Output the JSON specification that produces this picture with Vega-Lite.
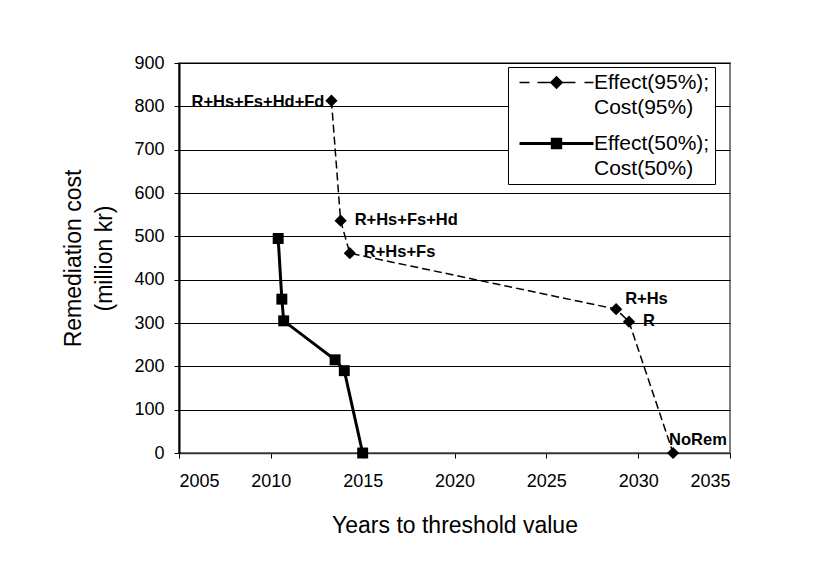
{
  "$schema": "https://vega.github.io/schema/vega-lite/v6.json",
  "width": 551,
  "height": 390,
  "autosize": {"type": "none"},
  "padding": {"left": 179, "top": 63, "right": 89, "bottom": 108},
  "background": "white",
  "config": {
    "font": "Liberation Sans",
    "view": {"stroke": "#808080", "strokeWidth": 2, "fill": "white"},
    "style": {"guide-label": {"lineHeight": 25}}
  },
  "data": {
    "values": [
      {"series": "95", "year": 2013.3, "cost": 813, "label": "R+Hs+Fs+Hd+Fd"},
      {"series": "95", "year": 2013.8, "cost": 536, "label": "R+Hs+Fs+Hd"},
      {"series": "95", "year": 2014.3, "cost": 461, "label": "R+Hs+Fs"},
      {"series": "95", "year": 2028.8, "cost": 332, "label": "R+Hs"},
      {"series": "95", "year": 2029.5, "cost": 303, "label": "R"},
      {"series": "95", "year": 2031.9, "cost": 0, "label": "NoRem"},
      {"series": "50", "year": 2010.4, "cost": 495, "label": ""},
      {"series": "50", "year": 2010.6, "cost": 355, "label": ""},
      {"series": "50", "year": 2010.7, "cost": 305, "label": ""},
      {"series": "50", "year": 2013.5, "cost": 215, "label": ""},
      {"series": "50", "year": 2014.0, "cost": 190, "label": ""},
      {"series": "50", "year": 2015.0, "cost": 0, "label": ""}
    ]
  },
  "encoding": {
    "x": {
      "field": "year",
      "type": "quantitative",
      "scale": {"domain": [2005, 2035], "nice": false, "zero": false},
      "axis": {
        "values": [2005, 2010, 2015, 2020, 2025, 2030, 2035],
        "format": "d",
        "grid": false,
        "domainColor": "#333333",
        "domainWidth": 1.5,
        "tickColor": "#000000",
        "tickSize": 5,
        "labelFontSize": 18,
        "labelColor": "#000000",
        "labelPadding": 14,
        "title": "Years to threshold value",
        "titleFontSize": 23,
        "titleFontWeight": "normal",
        "titleColor": "#000000",
        "titlePadding": 24
      }
    },
    "y": {
      "field": "cost",
      "type": "quantitative",
      "scale": {"domain": [0, 900], "nice": false},
      "axis": {
        "values": [0, 100, 200, 300, 400, 500, 600, 700, 800, 900],
        "grid": true,
        "gridColor": "#000000",
        "gridWidth": 1,
        "gridOpacity": 1,
        "domainColor": "#000000",
        "domainWidth": 2,
        "tickColor": "#000000",
        "tickSize": 5,
        "labelFontSize": 18,
        "labelColor": "#000000",
        "labelPadding": 10,
        "title": ["Remediation cost", "(million kr)"],
        "titleFontSize": 23,
        "titleFontWeight": "normal",
        "titleColor": "#000000",
        "titleLineHeight": 31,
        "titlePadding": 17
      }
    }
  },
  "layer": [
    {
      "transform": [{"filter": "datum.series === '95'"}],
      "mark": {"type": "line", "color": "#000000", "strokeWidth": 1.5, "strokeDash": [8, 4]},
      "encoding": {"order": {"field": "cost", "sort": "descending"}}
    },
    {
      "transform": [{"filter": "datum.series === '50'"}],
      "mark": {"type": "line", "color": "#000000", "strokeWidth": 3},
      "encoding": {"order": {"field": "cost", "sort": "descending"}}
    },
    {
      "transform": [{"filter": "datum.series === '95'"}],
      "mark": {"type": "point", "shape": "diamond", "filled": true, "color": "#000000", "opacity": 1, "size": 150}
    },
    {
      "transform": [{"filter": "datum.series === '50'"}],
      "mark": {"type": "point", "shape": "square", "filled": true, "color": "#000000", "opacity": 1, "size": 120}
    },
    {
      "transform": [{"filter": "datum.label === 'R+Hs+Fs+Hd+Fd'"}],
      "mark": {"type": "text", "align": "right", "baseline": "middle", "dx": -7, "dy": 1, "fontSize": 16.5, "fontWeight": "bold", "color": "#000000"},
      "encoding": {"text": {"field": "label"}}
    },
    {
      "transform": [{"filter": "datum.label === 'R+Hs+Fs+Hd' || datum.label === 'R+Hs+Fs' || datum.label === 'R'"}],
      "mark": {"type": "text", "align": "left", "baseline": "middle", "dx": 14, "dy": -1, "fontSize": 16.5, "fontWeight": "bold", "color": "#000000"},
      "encoding": {"text": {"field": "label"}}
    },
    {
      "transform": [{"filter": "datum.label === 'R+Hs'"}],
      "mark": {"type": "text", "align": "left", "baseline": "middle", "dx": 9, "dy": -10, "fontSize": 16.5, "fontWeight": "bold", "color": "#000000"},
      "encoding": {"text": {"field": "label"}}
    },
    {
      "transform": [{"filter": "datum.label === 'NoRem'"}],
      "mark": {"type": "text", "align": "left", "baseline": "middle", "dx": -4, "dy": -13, "fontSize": 16.5, "fontWeight": "bold", "color": "#000000"},
      "encoding": {"text": {"field": "label"}}
    },
    {
      "transform": [{"filter": "false"}],
      "mark": {"type": "point", "filled": true, "color": "#000000", "opacity": 1},
      "encoding": {
        "shape": {
          "field": "series",
          "type": "nominal",
          "scale": {
            "domain": ["95", "50"],
            "range": [
              "M-4.93,-0.1H-3.6V0.1H-4.93Z M-2.53,-0.1H2.53V0.1H-2.53Z M3.73,-0.1H4.93V0.1H3.73Z M0,-0.9L0.9,0L0,0.9L-0.9,0Z",
              "M-4.93,-0.2H4.93V0.2H-4.93Z M-0.76,-0.76H0.76V0.76H-0.76Z"
            ]
          },
          "legend": {
            "orient": "none",
            "legendX": 329,
            "legendY": 4,
            "title": null,
            "fillColor": "white",
            "strokeColor": "#000000",
            "padding": 5,
            "symbolSize": 225,
            "symbolFillColor": "#000000",
            "symbolOpacity": 1,
            "symbolOffset": 33,
            "labelOffset": 27,
            "labelFontSize": 21,
            "labelColor": "#000000",
            "labelLimit": 300,
            "rowPadding": 14,
            "labelExpr": "datum.value === '95' ? ['Effect(95%);', 'Cost(95%)'] : ['Effect(50%);', 'Cost(50%)']"
          }
        }
      }
    }
  ],
  "resolve": {"scale": {"shape": "independent"}}
}
